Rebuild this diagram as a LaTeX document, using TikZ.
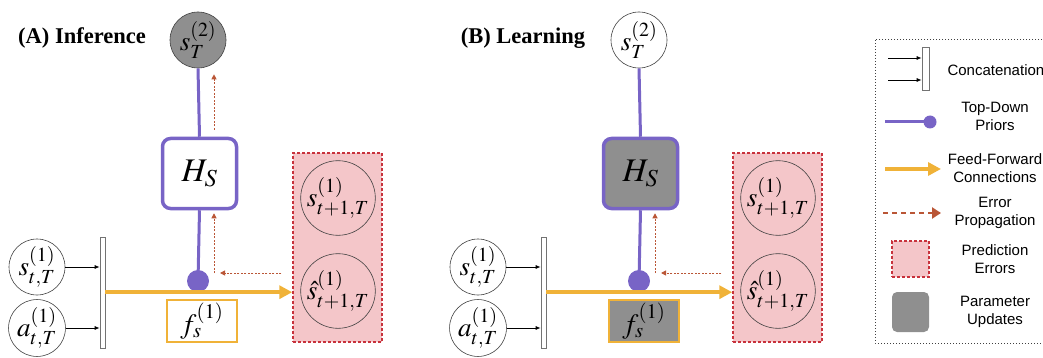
\documentclass[tikz,border=0pt]{standalone}
\usepackage{mathptmx}
\usepackage{fontspec}
\setmainfont{Liberation Serif}
\setsansfont{Liberation Sans}
\usetikzlibrary{arrows.meta,calc,positioning}
\definecolor{priorPurple}{RGB}{120,100,198}
\definecolor{ffOrange}{RGB}{240,178,56}
\definecolor{errRed}{RGB}{200,50,60}
\definecolor{errBrown}{RGB}{186,86,54}
\definecolor{errPink}{RGB}{244,198,201}
\definecolor{paramGray}{RGB}{143,143,143}
\tikzset{
  title/.style={font=\bfseries\fontsize{22.5}{24}\selectfont},
  var/.style={draw=black!75, circle, line width=0.6pt, minimum size=56pt, inner sep=0pt, font=\fontsize{27}{28}\selectfont},
  predvar/.style={var, minimum size=71pt},
  hbox/.style={draw=priorPurple, line width=3.5pt, rounded corners=8pt, minimum width=74pt, minimum height=70pt, inner sep=0pt, font=\fontsize{33}{33}\selectfont},
  fbox/.style={draw=ffOrange, line width=2pt, minimum width=70pt, minimum height=42pt, inner sep=0pt, font=\fontsize{28}{28}\selectfont},
  concat/.style={draw=black!55, fill=white, line width=0.6pt, minimum width=5pt, inner sep=0pt},
  prederr/.style={draw=errRed, fill=errPink, line width=1.5pt, dash pattern=on 3pt off 2pt},
  dot/.style={circle, fill=priorPurple, minimum size=22pt, inner sep=0pt},
  prior/.style={priorPurple, line width=3pt},
  ff/.style={ffOrange, line width=4pt, -{Triangle[length=13pt, width=13pt]}},
  inflow/.style={-{Latex[length=5pt, width=4pt]}, line width=0.8pt},
  errflow/.style={errBrown, line width=1pt, dash pattern=on 2pt off 1.5pt, -{Triangle[length=5pt, width=5pt]}},
  legtext/.style={align=center, font=\sffamily\fontsize{15}{18}\selectfont}
}
\begin{document}
\begin{tikzpicture}[x=1pt, y=-1pt]
  \clip (0,0) rectangle (1043,358);

  % (A) inference
  \node[title] (titleA) at (82,38) {(A) Inference};
  \node[var, fill=paramGray] (sTopA) at (198,40) {$s_T^{(2)}$};
  \node[hbox, fill=white] (hA) at (199.5,173.5) {$H_S$};
  \node[dot] (dotA) at (198,281) {};
  \node[fbox, fill=white] (fA) at (202,321) {$f_s^{(1)}$};
  \node[concat, minimum height=111pt] (concatA) at (102.5,292.5) {};
  \node[var] (sInA) at (37,267) {$s_{t,T}^{(1)}$};
  \node[var] (aInA) at (37,328) {$a_{t,T}^{(1)}$};
  \node[prederr, minimum width=89pt, minimum height=189pt] (predA) at (337.5,247.5) {};
  \node[predvar] (sNextA) at (338,198) {$s_{t+1,T}^{(1)}$};
  \node[predvar] (sHatA) at (338,291) {$\hat{s}_{t+1,T}^{(1)}$};
  \coordinate (errCornerA) at (214,273);

  \draw[inflow] (sInA.east) -- (sInA.east -| concatA.west);
  \draw[inflow] (aInA.east) -- (aInA.east -| concatA.west);
  \draw[prior] (sTopA.south) -- (hA.north);
  \draw[prior] (hA.south) -- (dotA.center);
  \draw[ff] (concatA.east |- dotA.south) -- (predA.west |- dotA.south);
  \draw[errflow] ([xshift=-11pt]predA.west |- errCornerA) -- ([xshift=6pt]errCornerA);
  \draw[errflow] (errCornerA) -- ([yshift=-3pt]hA.south -| errCornerA);
  \draw[errflow] ([yshift=7pt]hA.north -| errCornerA) -- ([yshift=-6pt]sTopA.south -| errCornerA);

  % (B) learning
  \node[title] (titleB) at (523,38) {(B) Learning};
  \node[var] (sTopB) at (639,40) {$s_T^{(2)}$};
  \node[hbox, fill=paramGray] (hB) at (640.5,173.5) {$H_S$};
  \node[dot] (dotB) at (639,281) {};
  \node[fbox, fill=paramGray] (fB) at (644,321) {$f_s^{(1)}$};
  \node[concat, minimum height=111pt] (concatB) at (543.5,292.5) {};
  \node[var] (sInB) at (478,267) {$s_{t,T}^{(1)}$};
  \node[var] (aInB) at (478,328) {$a_{t,T}^{(1)}$};
  \node[prederr, minimum width=89pt, minimum height=189pt] (predB) at (777.5,247.5) {};
  \node[predvar] (sNextB) at (778,198) {$s_{t+1,T}^{(1)}$};
  \node[predvar] (sHatB) at (778,291) {$\hat{s}_{t+1,T}^{(1)}$};
  \coordinate (errCornerB) at (655,273);

  \draw[inflow] (sInB.east) -- (sInB.east -| concatB.west);
  \draw[inflow] (aInB.east) -- (aInB.east -| concatB.west);
  \draw[prior] (sTopB.south) -- (hB.north);
  \draw[prior] (hB.south) -- (dotB.center);
  \draw[ff] (concatB.east |- dotB.south) -- (predB.west |- dotB.south);
  \draw[errflow] ([xshift=-11pt]predB.west |- errCornerB) -- ([xshift=6pt]errCornerB);
  \draw[errflow] (errCornerB) -- ([yshift=-3pt]hB.south -| errCornerB);

  % legend
  \draw[black!75, line width=1pt, dash pattern=on 1.2pt off 1.8pt] (875,40) rectangle (1050,343);
  \node[concat, minimum width=7pt, minimum height=43pt] (legBar) at (925.5,68.5) {};
  \coordinate (legIn1) at (888,58);
  \coordinate (legIn2) at (888,80);
  \draw[inflow] (legIn1) -- (legIn1 -| legBar.west);
  \draw[inflow] (legIn2) -- (legIn2 -| legBar.west);
  \node[legtext, anchor=west] (legConcat) at (944,70) {Concatenation};

  \coordinate (legPrior) at (885,122);
  \node[dot, minimum size=13pt] (legDot) at (930,122) {};
  \draw[prior] (legPrior) -- (legDot.center);
  \node[legtext] (legPriorText) at (995,116) {Top-Down\\Priors};

  \coordinate (legFFs) at (885,169);
  \coordinate (legFFe) at (941,169);
  \draw[ff] (legFFs) -- (legFFe);
  \node[legtext] (legFFText) at (995,168) {Feed-Forward\\Connections};

  \coordinate (legErrs) at (883,213);
  \coordinate (legErre) at (941,213);
  \draw[errflow, line width=2.2pt, dash pattern=on 5pt off 4pt, -{Triangle[length=9pt, width=11pt]}] (legErrs) -- (legErre);
  \node[legtext] (legErrText) at (995,213) {Error\\Propagation};

  \node[prederr, minimum width=37pt, minimum height=36pt] (legPred) at (910.5,259) {};
  \node[legtext] (legPredText) at (995,259) {Prediction\\Errors};

  \node[fill=paramGray, rounded corners=5pt, minimum width=37pt, minimum height=40pt] (legParam) at (910.5,312) {};
  \node[legtext] (legParamText) at (995,312) {Parameter\\Updates};
\end{tikzpicture}
\end{document}
